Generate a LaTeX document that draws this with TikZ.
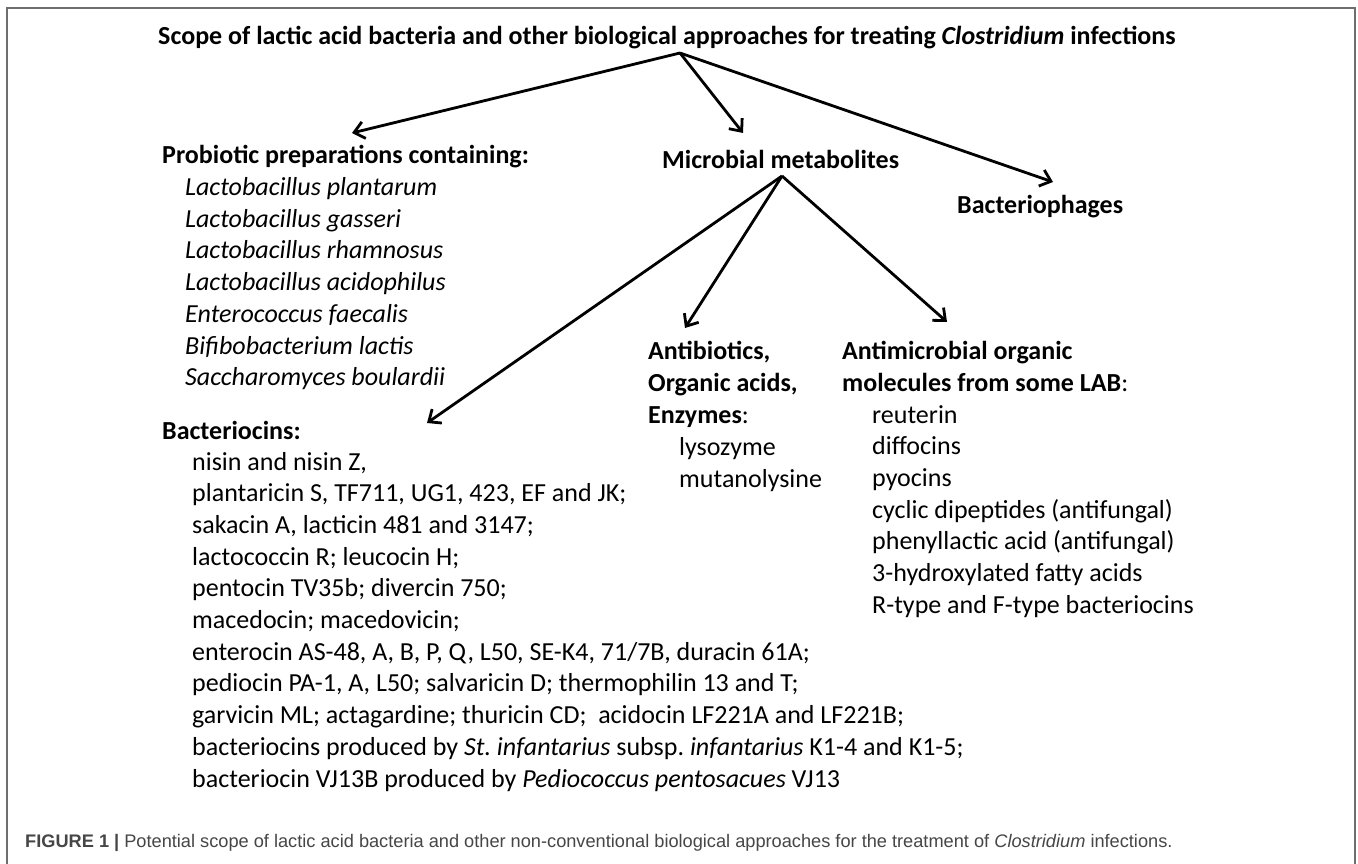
\documentclass[tikz,border=0pt]{standalone}
\usepackage{fontspec}
\setmainfont{Carlito}
\newfontfamily\capfont{Liberation Sans}
\usetikzlibrary{positioning,arrows.meta}
\definecolor{framegray}{RGB}{110,110,110}
\definecolor{capgray}{RGB}{70,70,70}
\frenchspacing

\begin{document}
\begin{tikzpicture}[x=1pt,y=-1pt]
  \tikzstyle{txt} = [inner sep=0, anchor=base west, font=\fontsize{26}{31.7}\selectfont]
  \tikzstyle{head} = [txt, font=\fontsize{26}{31.7}\selectfont\bfseries]
  \tikzstyle{link} = [line width=2.8, -{Straight Barb[length=10pt,width=17pt]}]
  \useasboundingbox (0,0) rectangle (1358,864);
  \fill[white] (0,0) rectangle (1358,864);
  \draw[line width=2, framegray] (6.5,870) |- (1355,8.5) -- (1355,870);

  % top level
  \node[head, anchor=base] (title) at (667,45) {Scope of lactic acid bacteria and other biological approaches for treating \textit{Clostridium} infections};
  \node[head] (prob) at (162,164) {Probiotic preparations containing:};
  \node[head] (micro) at (662,169) {Microbial metabolites};
  \node[head] (phage) at (957,214) {Bacteriophages};

  \foreach \t [count=\i from 0] in {Lactobacillus plantarum, Lactobacillus gasseri,
      Lactobacillus rhamnosus, Lactobacillus acidophilus, Enterococcus faecalis,
      Bifibobacterium lactis, Saccharomyces boulardii}
    \node[txt, font=\fontsize{26}{31.7}\selectfont\itshape] (sp\i) at (185,{195.5+31.7*\i}) {\t};

  % metabolites
  \node[head] (bac) at (162,439) {Bacteriocins:};
  \foreach \t [count=\i from 0] in {{nisin and nisin Z,},
      {plantaricin S, TF711, UG1, 423, EF and JK;},
      {sakacin A, lacticin 481 and 3147;},
      lactococcin R; leucocin H;,
      pentocin TV35b; divercin 750;,
      macedocin; macedovicin;,
      {enterocin AS-48, A, B, P, Q, L50, SE-K4, 71/7B, duracin 61A;},
      {pediocin PA-1, A, L50; salvaricin D; thermophilin 13 and T;},
      garvicin ML; actagardine; thuricin CD;\ \ acidocin LF221A and LF221B;,
      bacteriocins produced by \textit{St.\ infantarius} subsp.\ \textit{infantarius} K1-4 and K1-5;,
      bacteriocin VJ13B produced by \textit{Pediococcus pentosacues} VJ13}
    \node[txt] (bc\i) at (192,{470+31.7*\i}) {\t};

  \node[head] (anti) at (648,359) {Antibiotics,};
  \node[head] (orga) at (648,391) {Organic acids,};
  \node[txt] (enzy) at (648,423) {\textbf{Enzymes}:};
  \node[txt] (lyso) at (679,455) {lysozyme};
  \node[txt] (muta) at (679,487) {mutanolysine};

  \node[head] (amic) at (842,359) {Antimicrobial organic};
  \node[txt] (mole) at (842,391) {\textbf{molecules from some LAB}:};
  \foreach \t [count=\i from 0] in {reuterin, diffocins, pyocins,
      cyclic dipeptides (antifungal), phenyllactic acid (antifungal),
      3-hydroxylated fatty acids, R-type and F-type bacteriocins}
    \node[txt] (om\i) at (872,{423+31.7*\i}) {\t};

  % arrows
  \coordinate (top) at (680,53);
  \coordinate (sub) at (782,176);
  \coordinate (tprob) at (352,133);
  \coordinate (tmicro) at (743,133);
  \coordinate (tphage) at (1053,182);
  \coordinate (tbac) at (427,423);
  \coordinate (tanti) at (685,328);
  \coordinate (tamic) at (947,322);
  \draw[link] (top) -- (tprob);
  \draw[link] (top) -- (tmicro);
  \draw[link] (top) -- (tphage);
  \draw[link] (sub) -- (tbac);
  \draw[link] (sub) -- (tanti);
  \draw[link] (sub) -- (tamic);

  \node[inner sep=0, anchor=base west, text=capgray, font=\capfont\fontsize{18.2}{21}\selectfont] (cap) at (25,847)
    {\textbf{FIGURE 1 |} Potential scope of lactic acid bacteria and other non-conventional biological approaches for the treatment of \textit{Clostridium} infections.};
\end{tikzpicture}
\end{document}
